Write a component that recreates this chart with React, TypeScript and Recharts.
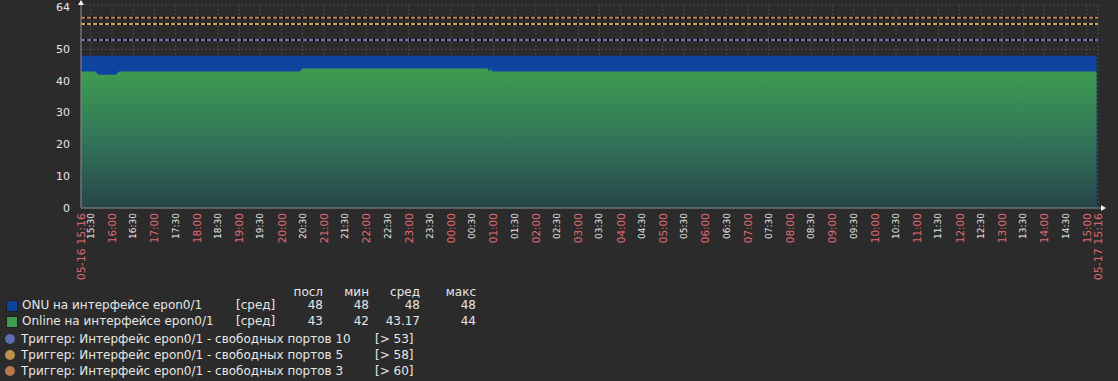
import {
  ComposedChart,
  Area,
  XAxis,
  YAxis,
  CartesianGrid,
  ReferenceLine,
  ReferenceDot,
} from "recharts";

// time axis: minutes since 05-16 15:16, 24h window
const xTickLabels = [
  "05-16 15:16",
  "15:30", "16:00", "16:30", "17:00", "17:30", "18:00", "18:30", "19:00",
  "19:30", "20:00", "20:30", "21:00", "21:30", "22:00", "22:30", "23:00",
  "23:30", "00:00", "00:30", "01:00", "01:30", "02:00", "02:30", "03:00",
  "03:30", "04:00", "04:30", "05:00", "05:30", "06:00", "06:30", "07:00",
  "07:30", "08:00", "08:30", "09:00", "09:30", "10:00", "10:30", "11:00",
  "11:30", "12:00", "12:30", "13:00", "13:30", "14:00", "14:30", "15:00",
  "05-17 15:16",
];
const yTicks = [0, 10, 20, 30, 40, 50, 64];

const sampleMinutes = [0, 20, 25, 49, 54, 310, 313, 575, 578, 580, 582, 1438];
const onuValues = [48, 48, 48, 48, 48, 48, 48, 48, 48, 48, 48, 48];
const onlineValues = [43, 43, 42, 42, 43, 43, 44, 44, 43, 44, 43, 43];

const triggerValues = [53, 58, 60];
const triggerColors = ["#6e78b4", "#c8a55a", "#bc8458"];
const triggerNames = [
  "Триггер: Интерфейс epon0/1 - свободных портов 10",
  "Триггер: Интерфейс epon0/1 - свободных портов 5",
  "Триггер: Интерфейс epon0/1 - свободных портов 3",
];
const triggerLegendColors = ["#5d6bb0", "#b8924c", "#b8784c"];

const seriesNames = ["ONU на интерфейсе epon0/1", "Online на интерфейсе epon0/1"];
const seriesColors = ["#0e44a0", "#3e9c4f"];
const statHeaders = ["посл", "мин", "сред", "макс"];
const onuStats = ["48", "48", "48", "48"];
const onlineStats = ["43", "42", "43.17", "44"];

const START = 15 * 60 + 16;
function labelToMinute(label: string, i: number) {
  if (i === 0) return 0;
  if (i === xTickLabels.length - 1) return 1440;
  const [h, m] = label.split(":").map(Number);
  let v = h * 60 + m - START;
  if (v < 0) v += 1440;
  return v;
}
const xTicks = xTickLabels.map(labelToMinute);
const labelByMinute = new Map(xTicks.map((t, i) => [t, xTickLabels[i]]));

const data = sampleMinutes.map((t, i) => ({
  t,
  onu: onuValues[i],
  online: onlineValues[i],
}));

const FONT = "'DejaVu Sans', sans-serif";
const TEXT = "#e6e6e6";
const RED = "#e06a72";

function TimeTick(props: any) {
  const { x, y, payload } = props;
  const label = labelByMinute.get(payload.value) ?? "";
  const isEnd = label.includes("-");
  const isHour = label.endsWith(":00") || isEnd;
  return (
    <text
      x={x}
      y={y}
      transform={`rotate(-90, ${x}, ${y})`}
      textAnchor="end"
      dominantBaseline="central"
      fill={isHour ? RED : TEXT}
      fontSize={isEnd ? 11 : isHour ? 10.5 : 9}
      fontFamily={FONT}
    >
      {label}
    </text>
  );
}

function ValueTick(props: any) {
  const { x, y, payload } = props;
  // top label is nudged down so it is not clipped
  const dy = payload.value === 64 ? 2 : 0;
  return (
    <text
      x={x}
      y={y + dy}
      textAnchor="end"
      dominantBaseline="central"
      fill={TEXT}
      fontSize={11}
      fontFamily={FONT}
    >
      {payload.value}
    </text>
  );
}

function UpArrow(props: any) {
  const { cx, cy } = props;
  return (
    <g>
      <line x1={cx} y1={cy} x2={cx} y2={cy - 4} stroke="#8a8a8a" />
      <path d={`M${cx - 3},${cy} L${cx + 3},${cy} L${cx},${cy - 5} Z`} fill="#f0f0f0" />
    </g>
  );
}

function RightArrow(props: any) {
  const { cx, cy } = props;
  return (
    <g>
      <line x1={cx} y1={cy} x2={cx + 5} y2={cy} stroke="#8a8a8a" />
      <path d={`M${cx + 3},${cy - 3} L${cx + 3},${cy + 3} L${cx + 8},${cy} Z`} fill="#f0f0f0" />
    </g>
  );
}

const legendText: React.CSSProperties = {
  position: "absolute",
  fontFamily: FONT,
  fontSize: 12,
  color: TEXT,
  lineHeight: "14px",
  whiteSpace: "nowrap",
};
const statRight = [323, 369, 420, 476];

export default function App() {
  return (
    <div
      style={{
        position: "absolute",
        left: 0,
        top: 0,
        width: 1118,
        height: 381,
        background: "#2b2b2b",
        overflow: "hidden",
      }}
    >
      <ComposedChart
        width={1118}
        height={292}
        data={data}
        margin={{ top: 5, right: 20, left: 0, bottom: 0 }}
      >
        <defs>
          <linearGradient id="gradOnline" x1="0" y1="0" x2="0" y2="1">
            <stop offset="0%" stopColor="#3f9d4f" />
            <stop offset="50%" stopColor="#32765a" />
            <stop offset="100%" stopColor="#28454a" />
          </linearGradient>
        </defs>
        <CartesianGrid stroke="#4a4a4a" strokeDasharray="2 2" />
        <XAxis
          dataKey="t"
          type="number"
          domain={[0, 1440]}
          ticks={xTicks}
          interval={0}
          tick={<TimeTick />}
          tickLine={false}
          tickSize={3}
          tickMargin={2}
          axisLine={{ stroke: "#8a8a8a" }}
          height={84}
          allowDataOverflow
        />
        <YAxis
          domain={[0, 64]}
          ticks={yTicks}
          interval={0}
          tick={<ValueTick />}
          tickLine={false}
          tickSize={6}
          tickMargin={5}
          axisLine={{ stroke: "#8a8a8a" }}
          width={81}
          allowDataOverflow
        />
        <Area
          type="linear"
          dataKey="onu"
          stroke="none"
          fill={seriesColors[0]}
          fillOpacity={1}
          isAnimationActive={false}
          dot={false}
          activeDot={false}
        />
        <Area
          type="linear"
          dataKey="online"
          stroke="none"
          fill="url(#gradOnline)"
          fillOpacity={1}
          isAnimationActive={false}
          dot={false}
          activeDot={false}
        />
        {triggerValues.map((v) => (
          <ReferenceLine key={`b${v}`} y={v} stroke="#000" strokeWidth={2} />
        ))}
        {triggerValues.map((v, i) => (
          <ReferenceLine
            key={`c${v}`}
            y={v}
            stroke={triggerColors[i]}
            strokeWidth={2}
            strokeDasharray="4 2"
          />
        ))}
        <ReferenceDot x={0} y={64} r={0} shape={<UpArrow />} ifOverflow="visible" />
        <ReferenceDot x={1440} y={0} r={0} shape={<RightArrow />} ifOverflow="visible" />
      </ComposedChart>

      {statHeaders.map((h, i) => (
        <div key={h} style={{ ...legendText, top: 285, right: 1118 - statRight[i] }}>
          {h}
        </div>
      ))}
      {[onuStats, onlineStats].map((stats, r) => (
        <div key={r}>
          <div
            style={{
              position: "absolute",
              left: 6,
              top: 300 + r * 16,
              width: 10,
              height: 10,
              background: seriesColors[r],
              border: "1px solid #1e1e1e",
            }}
          />
          <div style={{ ...legendText, left: 22, top: 298 + r * 16 }}>{seriesNames[r]}</div>
          <div style={{ ...legendText, left: 236, top: 298 + r * 16 }}>[сред]</div>
          {stats.map((s, i) => (
            <div key={i} style={{ ...legendText, top: 298 + r * 16, right: 1118 - statRight[i] }}>
              {s}
            </div>
          ))}
        </div>
      ))}
      {triggerNames.map((name, i) => (
        <div key={name}>
          <div
            style={{
              position: "absolute",
              left: 5,
              top: 334 + i * 16,
              width: 10,
              height: 10,
              borderRadius: "50%",
              background: triggerLegendColors[i],
            }}
          />
          <div style={{ ...legendText, left: 21, top: 332 + i * 16 }}>{name}</div>
          <div style={{ ...legendText, left: 375, top: 332 + i * 16 }}>[&gt; {triggerValues[i]}]</div>
        </div>
      ))}
    </div>
  );
}
